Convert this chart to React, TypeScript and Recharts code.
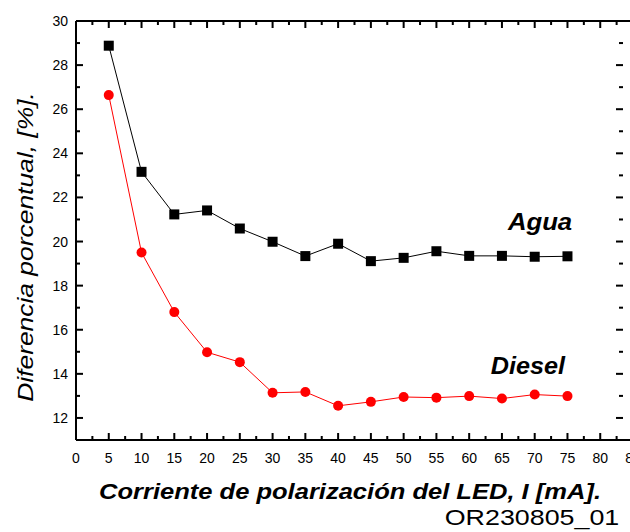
import React from "react";
import { LineChart, Line, XAxis, YAxis } from "recharts";

const corriente = [5, 10, 15, 20, 25, 30, 35, 40, 45, 50, 55, 60, 65, 70, 75];
const agua = [28.88, 23.16, 21.23, 21.41, 20.59, 19.99, 19.34, 19.9, 19.11, 19.26, 19.56, 19.35, 19.35, 19.31, 19.33];
const diesel = [26.64, 19.5, 16.8, 14.98, 14.53, 13.14, 13.18, 12.55, 12.73, 12.95, 12.92, 12.99, 12.88, 13.06, 12.99];

const xTicks = Array.from({ length: 35 }, (_, i) => i * 2.5);
const yTicks = [11, 12, 13, 14, 15, 16, 17, 18, 19, 20, 21, 22, 23, 24, 25, 26, 27, 28, 29, 30];

const data = corriente.map((c, i) => ({ c, agua: agua[i], diesel: diesel[i] }));

const FONT = "Arial, 'Liberation Sans', Helvetica, sans-serif";
const PLOT_TOP = 21;
const PLOT_RIGHT = 623;

// inward ticks, drawn for the opposite side too
const BottomTick = (props: any) => {
  const { x, y, payload } = props;
  const major = payload.value % 5 === 0;
  const len = major ? 7 : 4;
  return (
    <g>
      <rect x={x - 1} y={y - len} width={2} height={len} fill="#000" />
      <rect x={x - 1} y={PLOT_TOP} width={2} height={len} fill="#000" />
      {major && (
        <text x={x} y={y + 23} textAnchor="middle" fontSize={14} fontFamily={FONT} fill="#000">
          {payload.value}
        </text>
      )}
    </g>
  );
};

const LeftTick = (props: any) => {
  const { x, y, payload } = props;
  const major = payload.value % 2 === 0;
  const len = major ? 7 : 4;
  return (
    <g>
      <rect x={x} y={y - 1} width={len} height={2} fill="#000" />
      <rect x={PLOT_RIGHT - len} y={y - 1} width={len} height={2} fill="#000" />
      {major && (
        <text x={x - 8} y={y + 5} textAnchor="end" fontSize={14} fontFamily={FONT} fill="#000">
          {payload.value}
        </text>
      )}
    </g>
  );
};

const SquareDot = (props: any) => {
  const { cx, cy, index } = props;
  return <rect key={`sq-${index}`} x={cx - 5} y={cy - 5} width={10} height={10} fill="#000" />;
};

const label = (extra: React.CSSProperties): React.CSSProperties => ({
  position: "absolute",
  whiteSpace: "nowrap",
  fontFamily: FONT,
  color: "#000",
  lineHeight: 1,
  ...extra,
});

export default function App() {
  return (
    <div style={{ position: "absolute", left: 0, top: 0, width: 630, height: 532, background: "#fff", fontFamily: FONT }}>
      <LineChart width={630} height={532} data={data} margin={{ top: PLOT_TOP - 10, right: 630 - PLOT_RIGHT - 10, bottom: 0, left: 0 }}>
        <XAxis
          dataKey="c"
          type="number"
          domain={[0, 85]}
          ticks={xTicks}
          interval={0}
          height={92}
          tickSize={0}
          tickMargin={0}
          tickLine={false}
          tick={BottomTick}
          stroke="#000"
          strokeWidth={2}
        />
        <XAxis
          xAxisId="top"
          orientation="top"
          dataKey="c"
          type="number"
          domain={[0, 85]}
          ticks={xTicks}
          interval={0}
          height={10}
          tick={false}
          stroke="#000"
          strokeWidth={2}
        />
        <YAxis
          type="number"
          domain={[11, 30]}
          ticks={yTicks}
          interval={0}
          width={76}
          tickSize={0}
          tickMargin={0}
          tickLine={false}
          tick={LeftTick}
          stroke="#000"
          strokeWidth={2}
        />
        <YAxis
          yAxisId="right"
          orientation="right"
          type="number"
          domain={[11, 30]}
          ticks={yTicks}
          interval={0}
          width={10}
          mirror
          tick={false}
          stroke="#000"
          strokeWidth={2}
        />
        <Line
          dataKey="agua"
          stroke="#000"
          strokeWidth={1}
          dot={SquareDot}
          activeDot={false}
          isAnimationActive={false}
        />
        <Line
          xAxisId="top"
          yAxisId="right"
          dataKey="diesel"
          stroke="#ff0000"
          strokeWidth={1}
          dot={{ r: 5, fill: "#ff0000", stroke: "#ff0000", strokeWidth: 0 }}
          activeDot={false}
          isAnimationActive={false}
        />
      </LineChart>
      <div
        style={label({
          left: 26,
          top: 247,
          fontSize: 22,
          fontStyle: "italic",
          transform: "translate(-50%, -50%) rotate(-90deg) scaleX(1.2)",
        })}
      >
        Diferencia porcentual, [%].
      </div>
      <div
        style={label({
          left: 350,
          top: 492,
          fontSize: 22,
          fontStyle: "italic",
          fontWeight: "bold",
          transform: "translate(-50%, -50%) scaleX(1.16)",
        })}
      >
        Corriente de polarización del LED, I [mA].
      </div>
      <div style={label({ left: 532, top: 518, fontSize: 22, transform: "translate(-50%, -50%) scaleX(1.22)" })}>
        OR230805_01
      </div>
      <div
        style={label({
          left: 540,
          top: 222,
          fontSize: 24,
          fontStyle: "italic",
          fontWeight: "bold",
          transform: "translate(-50%, -50%) scaleX(1.07)",
        })}
      >
        Agua
      </div>
      <div
        style={label({
          left: 528,
          top: 366,
          fontSize: 24,
          fontStyle: "italic",
          fontWeight: "bold",
          transform: "translate(-50%, -50%) scaleX(1.05)",
        })}
      >
        Diesel
      </div>
    </div>
  );
}
